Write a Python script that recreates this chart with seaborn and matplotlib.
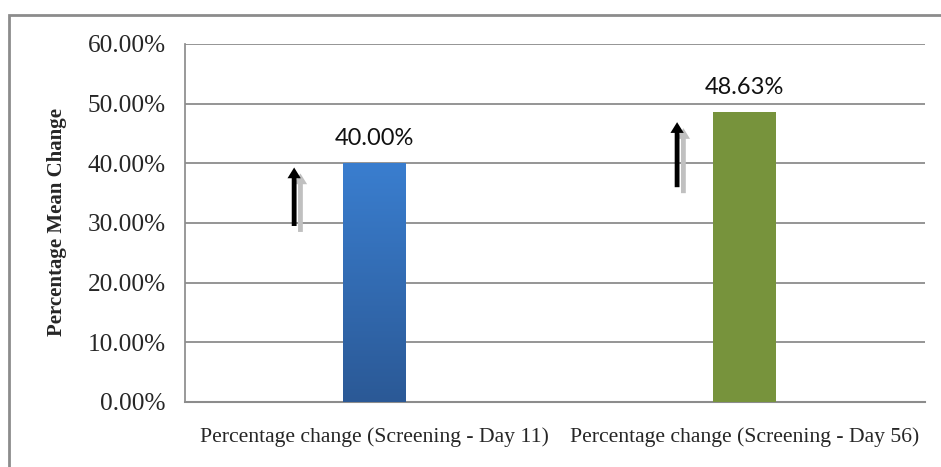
import numpy as np
import pandas as pd
import matplotlib
matplotlib.use("Agg")
import matplotlib.pyplot as plt
import seaborn as sns
from matplotlib.patches import Rectangle, FancyArrow
from matplotlib.colors import LinearSegmentedColormap

# Chart data
categories = ["Percentage change (Screening - Day 11)",
              "Percentage change (Screening - Day 56)"]
values = [40.00, 48.63]
value_labels = ["40.00%", "48.63%"]
y_ticks = [0, 10, 20, 30, 40, 50, 60]
y_tick_labels = ["0.00%", "10.00%", "20.00%", "30.00%", "40.00%", "50.00%", "60.00%"]
# upward arrows beside each bar (x position, start, end in %)
arrow_x = [-0.217, 0.818]
arrow_start = [29.5, 36.0]
arrow_end = [39.3, 46.9]

df = pd.DataFrame({"category": categories, "value": values})

sns.set_theme(style="white")
plt.rcParams["font.family"] = ["Liberation Serif", "DejaVu Serif"]

fig = plt.figure(figsize=(9.41, 4.67), dpi=100)
W, H = 941, 467
ax = fig.add_axes([185 / W, 1 - 402 / H, (925 - 185) / W, (402 - 44) / H])

sns.barplot(data=df, x="category", y="value", ax=ax, width=0.17,
            palette=["#3a7ccd", "#77933c"], hue="category", legend=False,
            edgecolor="none", saturation=1, zorder=3)

ax.set_ylim(0, 60)
ax.set_xlim(-0.512, 1.488)
ax.set_yticks(y_ticks)
ax.set_yticklabels(y_tick_labels, fontsize=18.2)
ax.tick_params(axis="y", length=4, width=1, color="#888888", pad=10, direction="out")
ax.tick_params(axis="x", length=0, pad=18, labelsize=15.6)
ax.yaxis.grid(True, color="#8c8c8c", linewidth=1.3, zorder=0)
ax.set_axisbelow(True)
for s in ["top", "right"]:
    ax.spines[s].set_visible(False)
ax.spines["left"].set_color("#8c8c8c")
ax.spines["bottom"].set_color("#8c8c8c")
ax.spines["bottom"].set_linewidth(1.5)
ax.set_xlabel("")
ax.set_ylabel("Percentage Mean Change", fontsize=15, fontweight="bold")
ax.yaxis.set_label_coords(-0.160, 0.503)

# vertical gradient on the first bar
bars = ax.patches
cmap = LinearSegmentedColormap.from_list("blue", ["#2b5996", "#3a7ecf"])
b = bars[0]
x0, w = b.get_x(), b.get_width()
grad = np.linspace(0, 1, 256).reshape(-1, 1)
im = ax.imshow(grad, cmap=cmap, origin="lower", aspect="auto",
               extent=[x0, x0 + w, 0, b.get_height()], zorder=4)
im.set_clip_path(b)

# value labels
for i, (v, lab) in enumerate(zip(values, value_labels)):
    ax.text(i, v + 2.4, lab, ha="center", va="bottom", fontsize=17,
            family=["Lato", "DejaVu Sans"], color="#111111")

# arrows with soft gray shadow
dx_off, dy_off = 0.017, -1.0
for xa, ys, ye in zip(arrow_x, arrow_start, arrow_end):
    for off_x, off_y, col, z in [(dx_off, dy_off, "#c0c0c0", 5), (0, 0, "#000000", 6)]:
        ax.add_patch(FancyArrow(xa + off_x, ys + off_y, 0, ye - ys,
                                width=0.013, head_width=0.036, head_length=1.8,
                                length_includes_head=True, color=col, zorder=z,
                                linewidth=0))

# outer chart border
fig.patches.append(Rectangle((9 / W, -0.1), 1.2, 1 - 15 / H + 0.1,
                             transform=fig.transFigure, fill=False,
                             edgecolor="#8c8c8c", linewidth=2))

fig.savefig("out.png", dpi=100)
